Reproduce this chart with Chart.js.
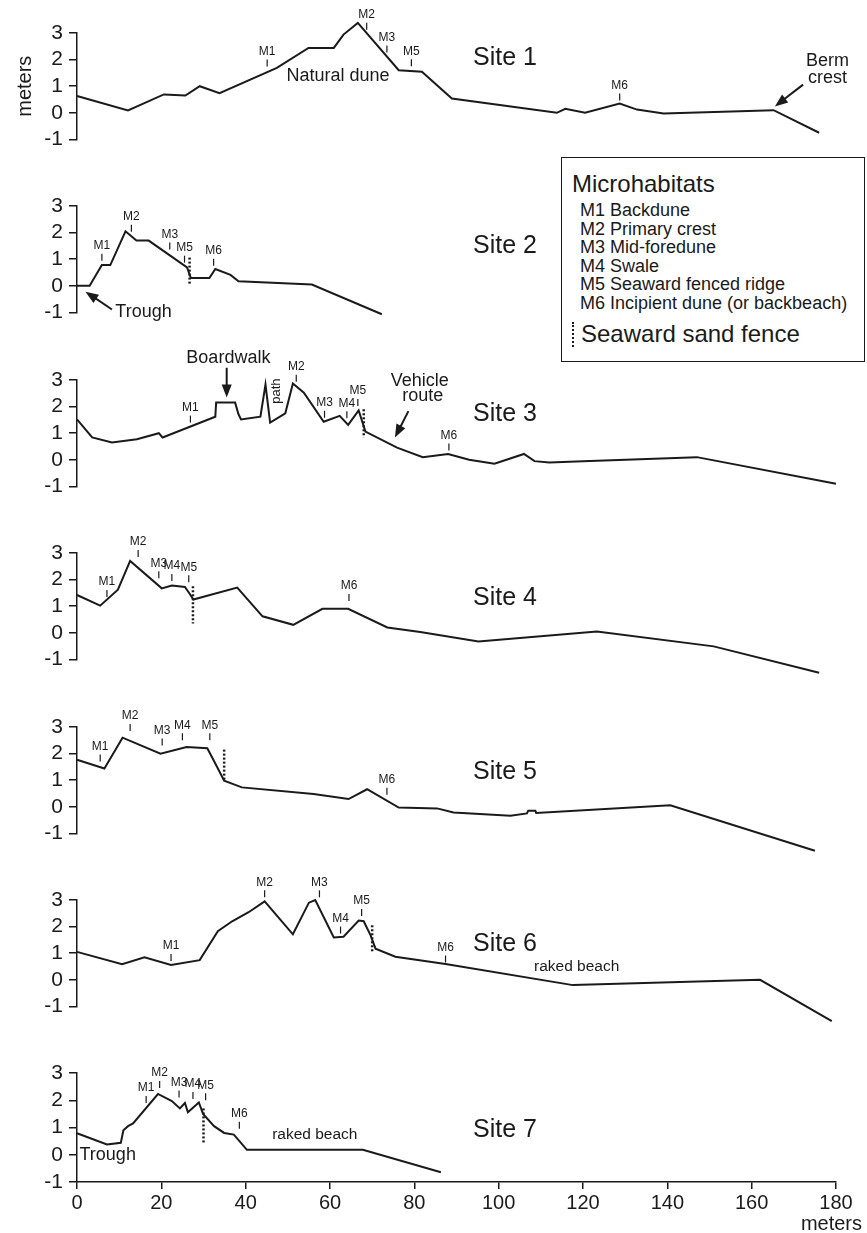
<!DOCTYPE html>
<html>
<head>
<meta charset="utf-8">
<title>Dune profiles</title>
<script src="https://cdn.jsdelivr.net/npm/chart.js@4.4.1/dist/chart.umd.min.js"></script>
<style>
  html, body { margin: 0; padding: 0; background: #fff; }
  body { position: relative; width: 867px; height: 1233px; overflow: hidden;
         font-family: "Liberation Sans", Arial, Helvetica, sans-serif; color: #1a1a1a; }
  .panel { position: absolute; left: 0; width: 867px; }
  #legend { position: absolute; left: 561px; top: 157px; width: 302px; height: 203px;
            border: 1.5px solid #1a1a1a; background: #fff; z-index: 5; }
  #legend .title { position: absolute; left: 10px; top: 13px; font-size: 24px; line-height: 26px; }
  #legend .row { position: absolute; left: 18px; font-size: 18px; line-height: 19px; white-space: nowrap; }
  #legend .row b { font-weight: normal; display: inline-block; width: 30px; }
  #legend .fence { position: absolute; left: 10px; top: 162px; font-size: 24px; line-height: 27px; padding-left: 9px; }
  #legend .fence:before { content: ""; position: absolute; left: 0; top: 2px; height: 25px;
                          border-left: 2.5px dotted #1a1a1a; }
</style>
</head>
<body>
<div id="legend">
  <div class="title">Microhabitats</div>
  <div class="row" style="top:43px"><b>M1</b>Backdune</div>
  <div class="row" style="top:61.5px"><b>M2</b>Primary crest</div>
  <div class="row" style="top:80px"><b>M3</b>Mid-foredune</div>
  <div class="row" style="top:98.5px"><b>M4</b>Swale</div>
  <div class="row" style="top:117px"><b>M5</b>Seaward fenced ridge</div>
  <div class="row" style="top:135.5px"><b>M6</b>Incipient dune (or backbeach)</div>
  <div class="fence">Seaward sand fence</div>
</div>
<script>
const INK = '#1a1a1a';
const FONT = '"Liberation Sans", Arial, Helvetica, sans-serif';

// page layout (px)
const PLOT_LEFT = 77, PLOT_RIGHT = 836;
const FIRST_TOP = 33, STEP = 173.4, PANEL_H = 109;
const PAD_TOP = 64, PAD_BOT = 16, XAXIS_H = 34;

// axes
const xMin = 0, xMax = 180, xStep = 20;
const yMin = -1, yMax = 3, yStep = 1;

// profiles: distance (m) and elevation (m)
const site1X = [0, 12.1, 20.6, 25.7, 29.1, 33.8, 47.4, 54.9, 60.9, 63.2, 66.6, 76.3, 81.8, 88.9, 113.8, 115.8, 120.5, 128.7, 132.8, 139.1, 165.2, 176];
const site1Y = [0.63, 0.09, 0.69, 0.65, 1.0, 0.74, 1.69, 2.44, 2.44, 2.94, 3.38, 1.6, 1.54, 0.54, 0.0, 0.15, 0.0, 0.35, 0.12, -0.03, 0.1, -0.75];

const site2X = [0, 3.0, 5.9, 7.9, 11.5, 14.1, 17.0, 26.1, 27.0, 31.4, 32.8, 36.4, 38.3, 55.7, 72.3];
const site2Y = [0, 0, 0.78, 0.78, 2.05, 1.7, 1.7, 0.69, 0.29, 0.29, 0.63, 0.41, 0.17, 0.05, -1.07];

const site3X = [0, 3.6, 8.3, 14.2, 19.4, 20.3, 32.8, 33.0, 37.5, 38.3, 38.9, 43.5, 44.7, 45.8, 49.4, 51.2, 53.8, 58.5, 62.3, 64.3, 66.8, 68.4, 75.9, 82, 88, 93, 99, 106, 108.5, 112, 120, 147, 180];
const site3Y = [1.52, 0.84, 0.65, 0.77, 1.0, 0.84, 1.62, 2.15, 2.15, 1.71, 1.52, 1.62, 2.83, 1.4, 1.75, 2.87, 2.52, 1.43, 1.65, 1.31, 1.86, 1.06, 0.46, 0.1, 0.22, 0.0, -0.15, 0.22, -0.05, -0.1, -0.05, 0.1, -0.9];

const site4X = [0, 5.5, 9.7, 12.6, 20.1, 22.5, 25.6, 26.8, 27.6, 38, 44, 51.3, 58.2, 64.3, 73.6, 81.4, 95.2, 123.3, 151, 176];
const site4Y = [1.42, 1.02, 1.62, 2.7, 1.67, 1.78, 1.72, 1.45, 1.25, 1.7, 0.62, 0.3, 0.9, 0.9, 0.2, 0.03, -0.33, 0.05, -0.51, -1.5];

const site5X = [0, 6.5, 10.8, 19.8, 26, 30.9, 32.4, 34.9, 39.1, 56.1, 64.4, 68.8, 76.3, 85.4, 89.3, 102.8, 106.7, 107, 108.7, 108.9, 140.7, 175];
const site5Y = [1.77, 1.44, 2.6, 2.0, 2.25, 2.2, 1.75, 0.98, 0.73, 0.48, 0.29, 0.66, -0.03, -0.06, -0.21, -0.34, -0.25, -0.15, -0.15, -0.23, 0.06, -1.65];

const site6X = [0, 10.7, 16.0, 22.3, 29.1, 33.4, 36.8, 40.7, 44.5, 51.2, 55, 56.5, 60.9, 63.2, 66.8, 68, 69.6, 70.8, 75.5, 87.4, 117.6, 162, 179];
const site6Y = [1.05, 0.59, 0.85, 0.56, 0.74, 1.83, 2.2, 2.54, 2.95, 1.71, 2.9, 3.0, 1.59, 1.62, 2.23, 2.2, 1.68, 1.17, 0.87, 0.59, -0.2, 0.0, -1.55];

const site7X = [0, 7.1, 10.4, 11, 12.1, 13.3, 19.2, 22.5, 24.4, 25.6, 26.3, 28.9, 29.9, 32.5, 34.9, 37.2, 40.3, 67.8, 86.3];
const site7Y = [0.79, 0.38, 0.44, 0.9, 1.05, 1.15, 2.23, 1.97, 1.7, 1.9, 1.56, 1.92, 1.5, 1.05, 0.8, 0.74, 0.18, 0.18, -0.64];

// microhabitat marks: [label, x, y of tick foot]
const site1Marks = [['M1', 45.1, 1.74], ['M2', 68.7, 3.12], ['M3', 73.5, 2.27], ['M5', 79.3, 1.75], ['M6', 128.7, 0.46]];
const site2Marks = [['M1', 5.9, 0.94], ['M2', 12.9, 2.03], ['M3', 22.0, 1.36], ['M5', 25.5, 0.87], ['M6', 32.4, 0.75]];
const site3Marks = [['M1', 26.9, 1.4], ['M2', 52.0, 2.93], ['M3', 58.7, 1.58], ['M4', 64.0, 1.56], ['M5', 66.6, 2.02], ['M6', 88.2, 0.35]];
const site4Marks = [['M1', 7.1, 1.35], ['M2', 14.5, 2.85], ['M3', 19.4, 2.05], ['M4', 22.5, 1.95], ['M5', 26.5, 1.9], ['M6', 64.5, 1.2]];
const site5Marks = [['M1', 5.5, 1.7], ['M2', 12.6, 2.85], ['M3', 20.2, 2.3], ['M4', 25, 2.5], ['M5', 31.5, 2.5], ['M6', 73.5, 0.45]];
const site6Marks = [['M1', 22.3, 0.71], ['M2', 44.5, 3.1], ['M3', 57.5, 3.1], ['M4', 62.5, 1.74], ['M5', 67.5, 2.4], ['M6', 87.4, 0.65]];
const site7Marks = [['M1', 16.4, 1.9], ['M2', 19.6, 2.45], ['M3', 24.2, 2.1], ['M4', 27.5, 2.05], ['M5', 30.5, 2.0], ['M6', 38.5, 0.95]];

// seaward sand fences: [x, top y, bottom y]
const site2Fence = [[26.7, 1.06, 0.02]];
const site3Fence = [[68.0, 1.9, 0.84]];
const site4Fence = [[27.5, 1.75, 0.35]];
const site5Fence = [[34.9, 2.15, 1.0]];
const site6Fence = [[70.0, 2.05, 1.0]];
const site7Fence = [[30.0, 1.7, 0.45]];

const sites = [
  { xs: site1X, ys: site1Y, marks: site1Marks, fences: [],
    texts: [['Site 1', 101.5, 2.07, 25, 'center'], ['Natural dune', 61.9, 1.37, 18, 'center'],
            ['Berm', 178, 1.95, 18, 'center'], ['crest', 178, 1.3, 18, 'center']],
    arrows: [[172.2, 1.06, 165.5, 0.24]], yTitle: true },
  { xs: site2X, ys: site2Y, marks: site2Marks, fences: site2Fence,
    texts: [['Site 2', 101.5, 1.5, 25, 'center'], ['Trough', 9.1, -0.97, 18, 'left']],
    arrows: [[8.3, -0.89, 2.0, -0.22]] },
  { xs: site3X, ys: site3Y, marks: site3Marks, fences: site3Fence,
    texts: [['Site 3', 101.5, 1.71, 25, 'center'], ['Boardwalk', 35.9, 3.83, 18, 'center'],
            ['path', 47.3, 2.58, 13, 'center', -90], ['Vehicle', 81.3, 2.95, 18, 'center'],
            ['route', 82.0, 2.4, 18, 'center']],
    arrows: [[35.5, 3.46, 35.5, 2.34], [78.6, 1.83, 75.4, 0.84]] },
  { xs: site4X, ys: site4Y, marks: site4Marks, fences: site4Fence,
    texts: [['Site 4', 101.5, 1.3, 25, 'center']], arrows: [] },
  { xs: site5X, ys: site5Y, marks: site5Marks, fences: site5Fence,
    texts: [['Site 5', 101.5, 1.31, 25, 'center']], arrows: [] },
  { xs: site6X, ys: site6Y, marks: site6Marks, fences: site6Fence,
    texts: [['Site 6', 101.5, 1.35, 25, 'center'], ['raked beach', 118.5, 0.5, 15.5, 'center']], arrows: [] },
  { xs: site7X, ys: site7Y, marks: site7Marks, fences: site7Fence,
    texts: [['Site 7', 101.5, 0.9, 25, 'center'], ['raked beach', 56.4, 0.75, 15.5, 'center'],
            ['Trough', 0.6, 0.0, 18, 'left']], arrows: [] }
];

function arrow(ctx, x1, y1, x2, y2) {
  const a = Math.atan2(y2 - y1, x2 - x1), L = 13, W = 5;
  ctx.lineWidth = 2;
  ctx.beginPath(); ctx.moveTo(x1, y1);
  ctx.lineTo(x2 - Math.cos(a) * L * 0.8, y2 - Math.sin(a) * L * 0.8); ctx.stroke();
  ctx.beginPath();
  ctx.moveTo(x2, y2);
  ctx.lineTo(x2 - Math.cos(a) * L + Math.sin(a) * W, y2 - Math.sin(a) * L - Math.cos(a) * W);
  ctx.lineTo(x2 - Math.cos(a) * L - Math.sin(a) * W, y2 - Math.sin(a) * L + Math.cos(a) * W);
  ctx.closePath(); ctx.fill();
}

function makeNotes(site, isLast) {
  return {
    id: 'notes',
    afterDatasetsDraw(chart) {
      const { ctx, scales: { x, y } } = chart;
      const px = v => x.getPixelForValue(v), py = v => y.getPixelForValue(v);
      ctx.save();
      ctx.strokeStyle = INK; ctx.fillStyle = INK;

      site.fences.forEach(([fx, y1, y2]) => {
        ctx.lineWidth = 2.5; ctx.setLineDash([2, 2]);
        ctx.beginPath(); ctx.moveTo(px(fx), py(y1)); ctx.lineTo(px(fx), py(y2)); ctx.stroke();
        ctx.setLineDash([]);
      });

      site.marks.forEach(([t, mx, my]) => {
        const X = px(mx), Y = py(my);
        ctx.lineWidth = 1.2;
        ctx.beginPath(); ctx.moveTo(X, Y); ctx.lineTo(X, Y - 7); ctx.stroke();
        ctx.font = '12px ' + FONT; ctx.textAlign = 'center'; ctx.textBaseline = 'bottom';
        ctx.fillText(t, X, Y - 9);
      });

      site.texts.forEach(([t, tx, ty, size, align, rot]) => {
        ctx.font = size + 'px ' + FONT; ctx.textAlign = align; ctx.textBaseline = 'middle';
        if (rot) {
          ctx.save(); ctx.translate(px(tx), py(ty)); ctx.rotate(rot * Math.PI / 180);
          ctx.fillText(t, 0, 0); ctx.restore();
        } else {
          ctx.fillText(t, px(tx), py(ty));
        }
      });

      site.arrows.forEach(([x1, y1, x2, y2]) => arrow(ctx, px(x1), py(y1), px(x2), py(y2)));

      if (isLast) {
        ctx.font = '20px ' + FONT; ctx.textAlign = 'right'; ctx.textBaseline = 'alphabetic';
        ctx.fillText('meters', 862, chart.chartArea.bottom + 48);
      }
      ctx.restore();
    }
  };
}

sites.forEach((site, i) => {
  const isLast = i === sites.length - 1;
  const top = Math.round(FIRST_TOP + i * STEP) - PAD_TOP;
  const height = PAD_TOP + PANEL_H + (isLast ? XAXIS_H + 30 : PAD_BOT);
  const div = document.createElement('div');
  div.className = 'panel';
  div.style.top = top + 'px';
  div.style.height = height + 'px';
  const canvas = document.createElement('canvas');
  canvas.width = 867; canvas.height = height;
  div.appendChild(canvas);
  document.body.insertBefore(div, document.getElementById('legend'));

  new Chart(canvas, {
    type: 'line',
    data: {
      datasets: [{
        data: site.xs.map((v, k) => ({ x: v, y: site.ys[k] })),
        borderColor: INK,
        borderWidth: 2,
        pointRadius: 0,
        tension: 0,
        clip: false
      }]
    },
    options: {
      responsive: false,
      animation: false,
      events: [],
      layout: { padding: { left: 0, right: 867 - PLOT_RIGHT, top: PAD_TOP, bottom: isLast ? 30 : PAD_BOT } },
      plugins: { legend: { display: false }, tooltip: { enabled: false } },
      scales: {
        x: {
          type: 'linear', min: xMin, max: xMax,
          display: isLast,
          afterFit: s => { s.height = isLast ? XAXIS_H : 0; },
          ticks: { stepSize: xStep, color: INK, font: { family: FONT, size: 20 }, padding: 2,
                   maxRotation: 0, autoSkip: false },
          grid: { drawOnChartArea: false, color: INK, lineWidth: 1.5, tickLength: 7 },
          border: { color: INK, width: 1.5 }
        },
        y: {
          min: yMin, max: yMax,
          afterFit: s => { s.width = PLOT_LEFT; },
          ticks: { stepSize: yStep, color: INK, font: { family: FONT, size: 21 }, padding: 6, autoSkip: false },
          grid: { drawOnChartArea: false, color: INK, lineWidth: 1.5, tickLength: 8 },
          border: { color: INK, width: 1.5 },
          title: { display: !!site.yTitle, text: 'meters', color: INK,
                   font: { family: FONT, size: 20 }, padding: { top: 13, bottom: 0 } }
        }
      }
    },
    plugins: [makeNotes(site, isLast)]
  });
});
</script>
</body>
</html>
